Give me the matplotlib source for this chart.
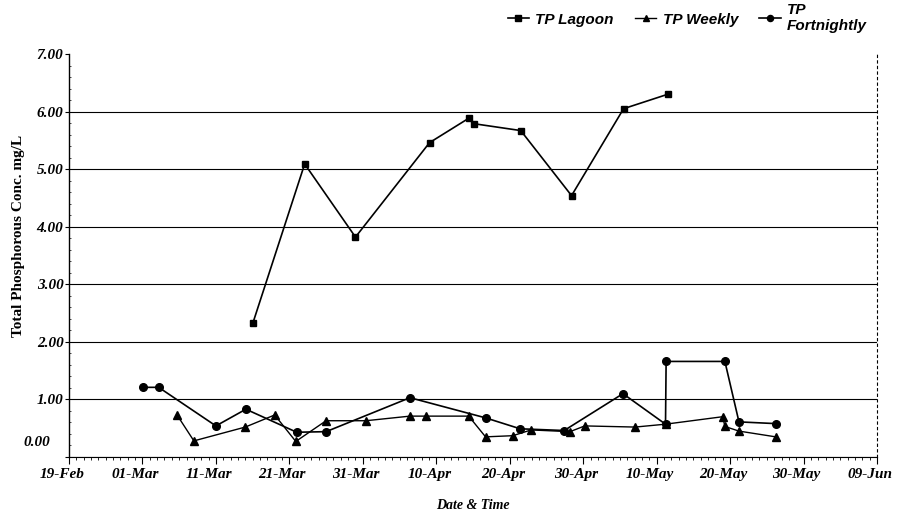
import pandas as pd
import matplotlib
matplotlib.use("Agg")
import matplotlib.pyplot as plt
import matplotlib.transforms as mtransforms

# Data (year 2001, non-leap)
lagoon_dates = ["03-16 01:00", "03-23 02:00", "03-30 00:00", "04-09 02:00", "04-14 12:00",
                "04-15 02:00", "04-21 12:00", "04-28 10:00", "05-05 12:00", "05-11 12:00"]
lagoon_tp = [2.33, 5.09, 3.82, 5.46, 5.89, 5.79, 5.67, 4.54, 6.05, 6.30]

weekly_dates = ["03-05 17:00", "03-08 00:00", "03-15 00:00", "03-19 00:00", "03-21 21:00",
                "03-26 00:00", "03-31 10:00", "04-06 10:00", "04-08 14:00", "04-14 10:00",
                "04-16 17:00", "04-20 10:00", "04-22 22:00", "04-28 05:00", "04-30 05:00",
                "05-07 02:00", "05-11 05:00", "05-19 00:00", "05-19 07:00", "05-21 05:00",
                "05-26 05:00"]
weekly_tp = [0.73, 0.28, 0.52, 0.73, 0.27, 0.63, 0.63, 0.71, 0.71, 0.71, 0.35,
             0.37, 0.47, 0.44, 0.54, 0.52, 0.57, 0.70, 0.53, 0.45, 0.35]

fortnight_dates = ["03-01 02:00", "03-03 05:00", "03-11 00:00", "03-15 02:00", "03-22 00:00",
                   "03-26 00:00", "04-06 10:00", "04-16 17:00", "04-21 10:00", "04-27 10:00",
                   "05-05 10:00", "05-11 05:00", "05-11 07:00", "05-19 07:00", "05-21 05:00",
                   "05-26 05:00"]
fortnight_tp = [1.21, 1.21, 0.54, 0.83, 0.43, 0.44, 1.03, 0.68, 0.49, 0.46, 1.10,
                0.57, 1.66, 1.66, 0.61, 0.58]

x_tick_labels = ["19-Feb", "01-Mar", "11-Mar", "21-Mar", "31-Mar", "10-Apr",
                 "20-Apr", "30-Apr", "10-May", "20-May", "30-May", "09-Jun"]
y_ticks = [0, 1, 2, 3, 4, 5, 6, 7]


def to_dt(lst):
    return pd.to_datetime(["2001-" + d for d in lst], format="%Y-%m-%d %H:%M")


serif = "Liberation Serif"
sans = "Liberation Sans"
tick_font = dict(family=serif, weight="bold", style="italic", size=11)

fig = plt.figure(figsize=(9.07, 5.17), dpi=100)
ax = fig.add_axes([69 / 907, 1 - 457 / 517, (877 - 69) / 907, (457 - 54) / 517])

ax.plot(to_dt(lagoon_dates), lagoon_tp, color="black", lw=1.2, marker="s", ms=5,
        label="TP Lagoon")
ax.plot(to_dt(weekly_dates), weekly_tp, color="black", lw=1.0, marker="^", ms=5.5,
        label="TP Weekly")
ax.plot(to_dt(fortnight_dates), fortnight_tp, color="black", lw=1.2, marker="o", ms=5.5,
        label="TP\nFortnightly")

# axes ranges and ticks
x_ticks = pd.date_range("2001-02-19", periods=len(x_tick_labels), freq="10D")
ax.set_xlim(x_ticks[0], x_ticks[-1])
ax.set_ylim(0, 7)
ax.set_xticks(x_ticks)
ax.set_xticklabels([])
ax.set_xticks(pd.date_range(x_ticks[0], x_ticks[-1], freq="D"), minor=True)
ax.set_yticks(y_ticks)
ax.set_yticklabels([""] + ["%.2f" % v for v in y_ticks[1:]], fontdict=tick_font)
ax.set_yticks([i * 0.2 for i in range(36)], minor=True)

# date labels sit a little left of their ticks in the original
x_off = ax.get_xaxis_transform() + mtransforms.ScaledTranslation(
    -7 / 100, -11 / 100, fig.dpi_scale_trans)
for d, lab in zip(x_ticks, x_tick_labels):
    ax.text(d, 0, lab, transform=x_off, ha="center", va="top", fontdict=tick_font)

# the 0.00 label sits higher and further left
zero_off = ax.get_yaxis_transform() + mtransforms.ScaledTranslation(
    -19 / 100, 14 / 100, fig.dpi_scale_trans)
ax.text(0, 0, "%.2f" % y_ticks[0], transform=zero_off, ha="right", va="center",
        fontdict=tick_font)

ax.tick_params(axis="x", which="major", length=5, width=0.8)
ax.tick_params(axis="x", which="minor", length=2, width=0.6)
ax.tick_params(axis="y", which="major", length=3, width=0.8, pad=1)
ax.tick_params(axis="y", which="minor", length=1.5, width=0.5, direction="in")

ax.yaxis.grid(True, color="black", lw=0.8)
ax.get_ygridlines()[-1].set_visible(False)
ax.set_axisbelow(True)
ax.spines["top"].set_visible(False)
ax.spines["right"].set_linestyle((0, (2, 3)))
ax.spines["right"].set_linewidth(0.8)
ax.spines["left"].set_linewidth(1.0)
ax.spines["bottom"].set_linewidth(0.8)

ax.set_ylabel("Total Phosphorous Conc. mg/L", fontfamily=serif, fontweight="bold",
              fontsize=11)
ax.yaxis.set_label_coords(-0.054, 0.548)
ax.set_xlabel("Date & Time", fontfamily=serif, fontweight="bold", fontstyle="italic",
              fontsize=10)
ax.xaxis.set_label_coords(0.5, -0.104)

fig.legend(loc="upper right", bbox_to_anchor=(870 / 907, 1.0), ncol=3, frameon=False,
           prop={"family": sans, "weight": "bold", "style": "italic", "size": 11},
           handlelength=1.4, handletextpad=0.4, columnspacing=1.4,
           borderaxespad=0, borderpad=0.2, markerscale=0.8)

fig.savefig("out.png", dpi=100)
